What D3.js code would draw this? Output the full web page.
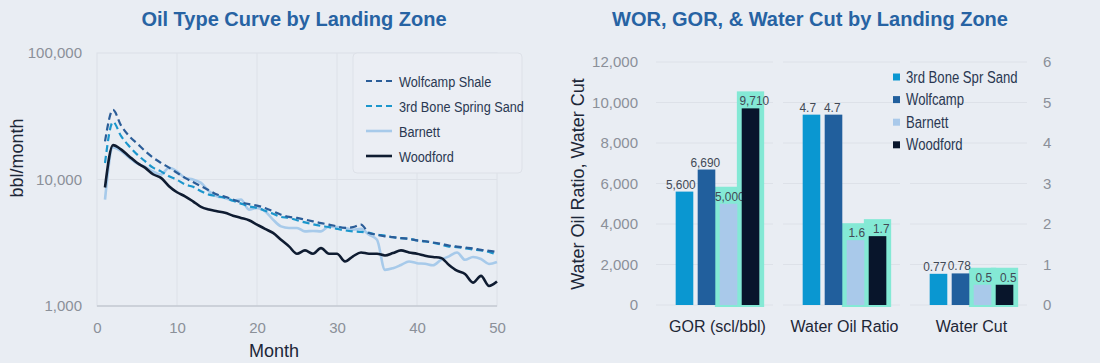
<!DOCTYPE html>
<html>
<head>
<meta charset="utf-8">
<script src="https://cdnjs.cloudflare.com/ajax/libs/d3/7.8.5/d3.min.js"></script>
<style>
    html, body { margin: 0; padding: 0; background: #e9edf3; }
    svg { display: block; font-family: "Liberation Sans", Arial, sans-serif; }
</style>
</head>
<body>
<svg id="chart" width="1100" height="363"></svg>
<script>
(function(){
    'use strict';

    // ---- left chart data (monthly oil, bbl/month) ----
    var months = d3.range(1, 51);
    var wolfcamp = [20000, 35500, 26800, 22100, 19300, 16800, 14900, 13550, 12400, 11300,
        10300, 9540, 8850, 8220, 7600, 7300, 6940, 6600, 6380, 6220,
        5960, 5610, 5270, 5060, 4970, 4820, 4670, 4520, 4400, 4260,
        4140, 4200, 4400, 3780, 3660, 3550, 3500, 3440, 3400, 3300,
        3250, 3180, 3100, 3010, 2950, 2900, 2850, 2780, 2730, 2670];
    var boneSpring = [13500, 28500, 22100, 18400, 15800, 13950, 12400, 11600, 10600, 9950,
        9130, 8750, 8070, 7600, 7370, 7150, 6800, 6450, 6140, 5960,
        5670, 5370, 5060, 4970, 4760, 4580, 4430, 4300, 4200, 4070,
        3960, 3890, 3850, 3780, 3660, 3600, 3500, 3440, 3400, 3300,
        3240, 3160, 3060, 2950, 2920, 2860, 2800, 2750, 2670, 2540];
    var barnett = [6940, 17900, 16800, 14900, 13400, 12600, 11600, 10960, 12400, 11600,
        10300, 10000, 9410, 8070, 7370, 7150, 6800, 6940, 5780, 5960,
        5610, 4820, 4260, 4140, 4140, 3890, 3920, 3890, 4260, 4200,
        4140, 4010, 4070, 3660, 3340, 1930, 1990, 2110, 2250, 2180,
        2160, 2100, 2320, 2470, 2650, 2320, 2440, 2350, 2150, 2230];
    var woodford = [8650, 18700, 17300, 15300, 13550, 12400, 11000, 10300, 8850, 7930,
        7370, 6720, 6070, 5780, 5610, 5450, 5180, 4970, 4760, 4400,
        4070, 3780, 3340, 2960, 2590, 2750, 2590, 2870, 2590, 2590,
        2250, 2470, 2650, 2590, 2590, 2510, 2620, 2750, 2650, 2590,
        2500, 2440, 2400, 2110, 1900, 1790, 1530, 1730, 1440, 1560];
    var curveNames = ['Wolfcamp Shale', '3rd Bone Spring Sand', 'Barnett', 'Woodford'];
    var logTicks = [1000, 10000, 100000];
    var monthTicks = [0, 10, 20, 30, 40, 50];

    // ---- right chart data ----
    var metrics = ['GOR (scl/bbl)', 'Water Oil Ratio', 'Water Cut'];
    var zones = ['3rd Bone Spr Sand', 'Wolfcamp', 'Barnett', 'Woodford'];
    var boneVals = [5600, 4.7, 0.77];
    var wolfVals = [6690, 4.7, 0.78];
    var barnettVals = [5000, 1.6, 0.5];
    var woodfordVals = [9710, 1.7, 0.5];
    var highlighted = ['Barnett', 'Woodford'];
    var leftTicks = [0, 2000, 4000, 6000, 8000, 10000, 12000];
    var rightTicks = [0, 1, 2, 3, 4, 5, 6];

    var titleColor = '#2763a3';
    var tickColor = '#8b9099';
    var darkText = '#1d2738';
    var narrow = 'scale(0.82,1)';   // no condensed face installed, squeeze instead

    var svg = d3.select('#chart');

    function narrowText(sel, x, y, txt, size) {
        return sel.append('text')
            .attr('transform', 'translate(' + x + ',' + y + ') ' + narrow)
            .attr('font-size', size).attr('fill', '#2a3852').text(txt);
    }

    function drawTypeCurve() {
        var x = d3.scaleLinear().domain([0, 50]).range([97, 497]);
        var y = d3.scaleLog().domain([1000, 100000]).range([306, 53]);
        var g = svg.append('g');

        g.append('text').attr('x', 294).attr('y', 26)
            .attr('text-anchor', 'middle').attr('font-size', 20).attr('font-weight', 'bold')
            .attr('fill', titleColor).text('Oil Type Curve by Landing Zone');

        // plot frame + grid
        g.append('rect').attr('x', x(0)).attr('y', y(100000))
            .attr('width', x(50) - x(0)).attr('height', y(1000) - y(100000))
            .attr('fill', 'none').attr('stroke', '#dce0e7');
        g.selectAll('.vgrid').data([10, 20, 30, 40]).enter().append('line')
            .attr('x1', function (d) { return x(d); }).attr('x2', function (d) { return x(d); })
            .attr('y1', y(100000)).attr('y2', y(1000))
            .attr('stroke', '#dde1e8');
        g.append('line').attr('x1', x(0)).attr('x2', x(50))
            .attr('y1', y(10000)).attr('y2', y(10000)).attr('stroke', '#dde1e8');
        g.append('line').attr('x1', x(0)).attr('x2', x(50))
            .attr('y1', y(1000)).attr('y2', y(1000)).attr('stroke', '#c5cad2').attr('stroke-width', 1.5);

        // axes (tick text only)
        var xAxis = d3.axisBottom(x).tickValues(monthTicks).tickSize(0).tickPadding(16);
        g.append('g').attr('transform', 'translate(0,' + y(1000) + ')').call(xAxis)
            .call(function (a) { a.select('.domain').remove(); })
            .selectAll('text').attr('font-size', 15).attr('fill', tickColor).attr('font-family', null);
        var yAxis = d3.axisLeft(y).tickValues(logTicks).tickFormat(d3.format(',')).tickSize(0).tickPadding(15);
        g.append('g').attr('transform', 'translate(' + x(0) + ',0)').call(yAxis)
            .call(function (a) { a.select('.domain').remove(); })
            .selectAll('text').attr('font-size', 15).attr('fill', tickColor).attr('font-family', null);

        g.append('text').attr('x', 274).attr('y', 357).attr('text-anchor', 'middle')
            .attr('font-size', 18).attr('fill', darkText).text('Month');
        g.append('text').attr('transform', 'translate(23,158) rotate(-90)').attr('text-anchor', 'middle')
            .attr('font-size', 18).attr('fill', darkText).text('bbl/month');

        var series = [
            {name: curveNames[0], values: wolfcamp, color: '#2b5d98', dash: '7,4', width: 2.2},
            {name: curveNames[1], values: boneSpring, color: '#1b96cc', dash: '7,4', width: 2.2},
            {name: curveNames[2], values: barnett, color: '#a7caea', dash: null, width: 2.6},
            {name: curveNames[3], values: woodford, color: '#0f1c31', dash: null, width: 2.6}
        ];

        var line = d3.line()
            .x(function (d, i) { return x(months[i]); })
            .y(function (d) { return y(d); })
            .curve(d3.curveMonotoneX);

        // draw so that Wolfcamp/Bone sit on top as in the picture
        [2, 3, 1, 0].forEach(function (k) {
            var s = series[k];
            g.append('path').attr('d', line(s.values))
                .attr('fill', 'none').attr('stroke', s.color)
                .attr('stroke-width', s.width)
                .attr('stroke-dasharray', s.dash)
                .attr('stroke-linejoin', 'round');
        });

        // legend
        var lg = g.append('g');
        lg.append('rect').attr('x', 353).attr('y', 53).attr('width', 169).attr('height', 120)
            .attr('rx', 4).attr('fill', '#ebeef4').attr('stroke', '#dde1e8');
        series.forEach(function (s, i) {
            var ly = 81 + i * 25;
            lg.append('line').attr('x1', 366).attr('x2', 392).attr('y1', ly).attr('y2', ly)
                .attr('stroke', s.color).attr('stroke-width', s.dash ? 2.2 : 2.6)
                .attr('stroke-dasharray', s.dash ? '6,4' : null);
            narrowText(lg, 399, ly + 5.5, s.name, 15.5);
        });
    }

    function drawBars() {
        var g = svg.append('g');
        var zoneColors = ['#0a97d1', '#215f9d', '#a9c9ea', '#08152b'];
        var byZone = [boneVals, wolfVals, barnettVals, woodfordVals];

        var yLeft = d3.scaleLinear().domain([0, 12000]).range([305, 62]);
        var yRight = d3.scaleLinear().domain([0, 6]).range([305, 62]);
        var x0 = d3.scaleBand().domain(metrics).range([654, 1035]).paddingInner(0).paddingOuter(0);
        var x1 = d3.scaleBand().domain(zones).range([0, x0.bandwidth()])
            .paddingInner(0.2).paddingOuter(0.985);

        function yFor(mi) { return mi === 0 ? yLeft : yRight; }

        g.append('text').attr('x', 810).attr('y', 26)
            .attr('text-anchor', 'middle').attr('font-size', 20).attr('font-weight', 'bold')
            .attr('fill', titleColor).text('WOR, GOR, & Water Cut by Landing Zone');

        // gridlines, broken per metric panel
        metrics.forEach(function (m) {
            g.selectAll(null).data(leftTicks).enter().append('line')
                .attr('x1', x0(m) + 2).attr('x2', x0(m) + x0.bandwidth() - 8)
                .attr('y1', function (d) { return yLeft(d); }).attr('y2', function (d) { return yLeft(d); })
                .attr('stroke', '#dde1e8');
        });

        var yAxisL = d3.axisLeft(yLeft).tickValues(leftTicks).tickFormat(d3.format(',')).tickSize(0).tickPadding(0);
        g.append('g').attr('transform', 'translate(638,0)').call(yAxisL)
            .call(function (a) { a.select('.domain').remove(); })
            .selectAll('text').attr('font-size', 15).attr('fill', tickColor).attr('font-family', null);
        var yAxisR = d3.axisRight(yRight).tickValues(rightTicks).tickFormat(d3.format('d')).tickSize(0).tickPadding(0);
        g.append('g').attr('transform', 'translate(1043,0)').call(yAxisR)
            .call(function (a) { a.select('.domain').remove(); })
            .selectAll('text').attr('font-size', 15).attr('fill', tickColor).attr('font-family', null);

        g.append('text').attr('transform', 'translate(584,184) rotate(-90)').attr('text-anchor', 'middle')
            .attr('font-size', 18).attr('fill', darkText).text('Water Oil Ratio, Water Cut');

        // highlight boxes behind Barnett / Woodford
        metrics.forEach(function (m, mi) {
            highlighted.forEach(function (z) {
                var zi = zones.indexOf(z);
                var v = byZone[zi][mi];
                var pad = x1.step() * 0.22;
                g.append('rect')
                    .attr('x', x0(m) + x1(z) - pad)
                    .attr('width', x1.bandwidth() + pad * 2)
                    .attr('y', yFor(mi)(v) - 17)
                    .attr('height', yFor(mi)(0) - yFor(mi)(v) + 19)
                    .attr('fill', '#84e9d5');
            });
        });

        // bars + labels (labels fanned out a little so neighbours don't collide)
        zones.forEach(function (z, zi) {
            metrics.forEach(function (m, mi) {
                var v = byZone[zi][mi];
                var sc = yFor(mi);
                var cx = x0(m) + x1(z) + x1.bandwidth() / 2 + (zi - 1.5) * 2.5;
                g.append('rect')
                    .attr('x', x0(m) + x1(z)).attr('width', x1.bandwidth())
                    .attr('y', sc(v)).attr('height', sc(0) - sc(v))
                    .attr('fill', zoneColors[zi]);
                g.append('text')
                    .attr('transform', 'translate(' + cx + ',' + (sc(v) - 3) + ') scale(0.88,1)')
                    .attr('text-anchor', 'middle').attr('font-size', 13.5).attr('fill', '#424955')
                    .text(mi === 0 ? d3.format(',')(v) : String(v));
            });
        });

        // category labels
        g.selectAll('.cat').data(metrics).enter().append('text')
            .attr('x', function (d) { return x0(d) + x0.bandwidth() / 2; }).attr('y', 332)
            .attr('text-anchor', 'middle').attr('font-size', 16).attr('fill', '#1d2636')
            .text(function (d) { return d; });

        // legend
        zones.forEach(function (z, i) {
            var ly = 77 + i * 22.6;
            g.append('rect').attr('x', 893).attr('y', ly - 3.5).attr('width', 7).attr('height', 7)
                .attr('fill', zoneColors[i]);
            narrowText(g, 906, ly + 5.5, z, 16);
        });
    }

    drawTypeCurve();
    drawBars();
})();
</script>
</body>
</html>
